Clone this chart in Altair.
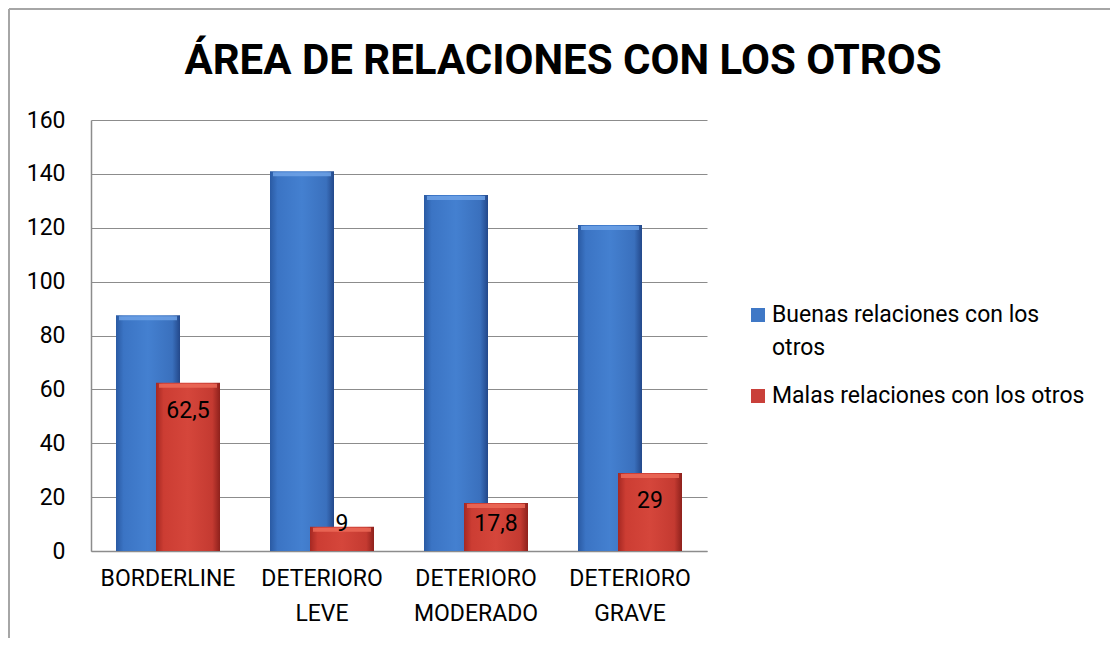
import altair as alt
import pandas as pd

categorias = ["BORDERLINE", "DETERIORO LEVE", "DETERIORO MODERADO", "DETERIORO GRAVE"]
series = ["Buenas relaciones con los otros", "Malas relaciones con los otros"]
buenas = [87.5, 141, 132.2, 121]
malas = [62.5, 9, 17.8, 29]
y_ticks = [0, 20, 40, 60, 80, 100, 120, 140, 160]
titulo = "ÁREA DE RELACIONES CON LOS OTROS"

rows = []
for c, b, m in zip(categorias, buenas, malas):
    rows.append({"categoria": c, "serie": series[0], "valor": b})
    rows.append({"categoria": c, "serie": series[1], "valor": m})
df = pd.DataFrame(rows)

FONT = "Roboto"
W, H = 616, 431
BAR_W = 64
OFF = 20
colores = ["#3f78c6", "#c9403a"]

blue_grad = {
    "gradient": "linear", "x1": 0, "x2": 1, "y1": 0, "y2": 0,
    "stops": [
        {"offset": 0, "color": "#2a5aa3"},
        {"offset": 0.12, "color": "#3b74c4"},
        {"offset": 0.5, "color": "#4480d0"},
        {"offset": 0.88, "color": "#3a70bd"},
        {"offset": 1, "color": "#23488a"},
    ],
}
red_grad = {
    "gradient": "linear", "x1": 0, "x2": 1, "y1": 0, "y2": 0,
    "stops": [
        {"offset": 0, "color": "#a52822"},
        {"offset": 0.12, "color": "#cc3d33"},
        {"offset": 0.5, "color": "#d5463b"},
        {"offset": 0.88, "color": "#c43a31"},
        {"offset": 1, "color": "#8e211c"},
    ],
}

x_enc = alt.X(
    "categoria:N",
    sort=categorias,
    scale=alt.Scale(domain=categorias, paddingInner=0, paddingOuter=0),
    axis=alt.Axis(
        title=None, labelAngle=0, ticks=False, labelPadding=16,
        labelExpr="split(datum.label, ' ')", labelLineHeight=35,
        labelFont=FONT, labelFontSize=23, labelColor="#000000",
        domainColor="#8c8c8c", domainWidth=1.5, grid=False,
    ),
)
y_enc = alt.Y(
    "valor:Q",
    scale=alt.Scale(domain=[0, 160], nice=False),
    axis=alt.Axis(
        title=None, values=y_ticks, ticks=False, labelPadding=26,
        labelFont=FONT, labelFontSize=23, labelColor="#000000",
        domainColor="#8c8c8c", domainWidth=1.5,
        grid=True, gridColor="#8c8c8c", gridWidth=1,
    ),
)

base = alt.Chart(df)

blue_d = base.transform_filter(alt.datum.serie == series[0])
red_d = base.transform_filter(alt.datum.serie == series[1])

blue = blue_d.mark_bar(size=BAR_W, xOffset=-OFF, fill=blue_grad).encode(x=x_enc, y=y_enc)
red = red_d.mark_bar(size=BAR_W, xOffset=OFF, fill=red_grad).encode(x=x_enc, y=y_enc)

# light bevel along the top of each bar
blue_top = blue_d.mark_tick(
    size=BAR_W - 6, thickness=4, xOffset=-OFF, yOffset=3, color="#6ea2e6", opacity=0.85
).encode(x=x_enc, y=y_enc)
red_top = red_d.mark_tick(
    size=BAR_W - 6, thickness=4, xOffset=OFF, yOffset=3, color="#ec6a58", opacity=0.85
).encode(x=x_enc, y=y_enc)

labels = red_d.transform_calculate(
    texto="replace(toString(datum.valor), '.', ',')",
    ypos="max(datum.valor - 10.6, 10.2)",
).mark_text(
    xOffset=OFF, font=FONT, fontSize=23, color="#000000", baseline="middle", align="center"
).encode(x=x_enc, y=alt.Y("ypos:Q"), text="texto:N")

one = alt.Data(values=[{"k": 1}])

# outer chart-area frame (top and left edges visible, as in the reference)
border_top = alt.Chart(one).mark_rule(stroke="#a6a6a6", strokeWidth=2).encode(
    x=alt.value(-82), x2=alt.value(1100), y=alt.value(-111)
)
border_left = alt.Chart(one).mark_rule(stroke="#a6a6a6", strokeWidth=2).encode(
    x=alt.value(-82), y=alt.value(-111), y2=alt.value(700)
)

title_mark = alt.Chart(one).mark_text(
    text=titulo, font=FONT, fontSize=42, fontWeight="bold", color="#000000",
    align="center", baseline="alphabetic",
).encode(x=alt.value(472), y=alt.value(-46))

# legend (drawn manually so the first entry can wrap onto two lines)
leg_layers = []
leg_text_y = [202, 283]
for i, s in enumerate(series):
    lineas = s.rsplit(" ", 1) if i == 0 else [s]
    d = alt.Data(values=[{"serie": s}])
    sw = alt.Chart(d).mark_square(size=196, color=colores[i], opacity=1).encode(
        x=alt.value(667), y=alt.value(leg_text_y[i] - 7)
    )
    tx = alt.Chart(d).mark_text(
        text=lineas, font=FONT, fontSize=23, color="#000000", align="left",
        baseline="alphabetic", lineHeight=33,
    ).encode(x=alt.value(681), y=alt.value(leg_text_y[i]))
    leg_layers += [sw, tx]

chart = alt.layer(
    border_top, border_left, title_mark, blue, blue_top, red, red_top, labels, *leg_layers
).properties(
    width=W, height=H,
    background="#ffffff",
    autosize=alt.AutoSizeParams(type="none"),
    padding={"left": 83, "top": 112, "right": 403, "bottom": 87},
).configure_view(strokeWidth=0, strokeOpacity=0)

chart.save("out.html", embed_options={"renderer": "svg", "actions": False})
